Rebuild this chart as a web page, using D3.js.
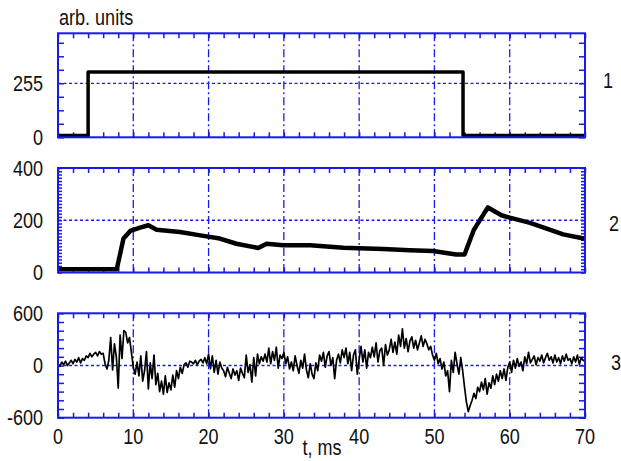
<!DOCTYPE html>
<html>
<head>
<meta charset="utf-8">
<script src="https://d3js.org/d3.v7.min.js"></script>
<style>
  body { margin: 0; background: #fff; }
  svg { display: block; }
</style>
</head>
<body>
<svg class="chart" width="621" height="461"></svg>
<script>
// panel 1: control pulse
var t1 = [0, 4, 4, 53.8, 53.8, 70];
var v1 = [8, 8, 308, 308, 8, 8];

// panel 2: slow response
var t2 = [0, 7.8, 8.7, 9.6, 10.9, 12, 13.1, 16.2, 18.9, 21.5, 23.7, 26.6, 27.7, 29.9, 33.5, 37.9,
          43.2, 46.7, 49.8, 52.9, 54, 55.2, 56.3, 57.1, 58.9, 60, 62.7, 65.3, 67.1, 69.5, 70];
var v2 = [12, 12, 130, 159, 172, 181, 164, 155, 142, 130, 110, 94, 110, 104, 104, 95,
          90, 85, 82, 69, 69, 161, 213, 249, 219, 210, 190, 164, 146, 132, 130];

// panel 3: noisy signal, one value per 0.25 ms
var step3 = 0.25;
var v3 = [
  20, -10, 40, 10,   50, 0, 30, 60,   20, 70, 40, 90,   30, 80, 60, 110,
  90, 140, 100, 130,   150, 110, 160, 130,   140, 20, -40, 60,   320, -50, 250, 100,
  -260, 350, 80, 400,   380, 260, 320, 150,   -20, -100, 40, -120,   110, -180, -60, 160,
  -270, 30, -150, 120,   -220, -90, -300, -180,   -330, -120, -310, -200,   -280, -110, -250, -60,
  -150, -20, -90, 10,   30, -20, 50, 40,   20, 60, 10, 50,   70, 30, 90, 20,
  130, -40, 110, -80,   60, -100, 40, -30,   -60, -130, -20, -90,   -150, -40, -110, -60,
  -170, -30, -90, -140,   120, -80, 10, -190,   90, -120, 130, 20,   100, 50, 130, 40,
  200, 20, 160, 60,   210, -30, 120, 80,   150, 20, 100, -40,   40, -60, 110, 0,
  -90, 60, -30, 130,   -50, -140, 20, -100,   -150, 30, -60, 120,   50, 150, -20, 110,
  160, 0, 90, -150,   60, 130, 30, 180,   90, 200, 20, 150,   -60, 120, 180, -100,
  70, 220, 40, 180,   -30, 150, 90, 210,   100, 260, 40, 170,   200, 0, 240, 120,
  180, 300, 150, 270,   130, 350, 220, 420,   200, 310, 160, 280,   330, 200, 290, 180,
  260, 340, 220, 300,   250, 180, 220, 120,   60, 140, 20, 80,   -40, 40, -120, -60,
  -300, 60, -80, 150,   20, -100, 90, -60,   -250, -420, -530, -460,   -400, -320, -380, -250,
  -300, -190, -280, -150,   -330, -200, -260, -120,   -220, -100, -180, -60,   -150, -40, -170, -20,
  40, -80, 60, -30,   80, -10, 40, -60,   100, 20, 150, 30,   70, 110, 10, 90,
  50, 120, 30, 90,   140, 60, 100, 30,   120, 40, 90, 20,   110, 50, 130, 60,
  80, 20, 100, 40,   120, 10, 90, 60,   50
];

var xTicks = [0, 10, 20, 30, 40, 50, 60, 70];
var xGrid = [10, 20, 30, 40, 50, 60];

var panels = [
  { name: "1", top: 33.3, bottom: 137.3, domain: [0, 491], minor: 63.75, grid: [255],
    labels: [0, 255], lw: 3.5, tag: [603, 80] },
  { name: "2", top: 168, bottom: 272.5, domain: [0, 400], minor: 12.5, grid: [200],
    labels: [0, 200, 400], lw: 4.5, tag: [609, 223] },
  { name: "3", top: 313.3, bottom: 417.7, domain: [-600, 600], minor: 100, grid: [0],
    labels: [-600, 0, 600], lw: 1.7, tag: [611, 362] }
];
var series = [
  t1.map(function(t, i) { return [t, v1[i]]; }),
  t2.map(function(t, i) { return [t, v2[i]]; }),
  v3.map(function(v, i) { return [i * step3, v]; })
];

var blue = "#1a1ae6";
var svg = d3.select(".chart");
var left = 58, right = 585;

var x = d3.scaleLinear().domain([0, 70]).range([left, right]);

function addText(x0, y0, str, anchor) {
  svg.append("text")
    .attr("transform", "translate(" + x0 + "," + y0 + ") scale(0.82,1)")
    .attr("text-anchor", anchor)
    .attr("dy", "0.35em")
    .style("font-family", "'Liberation Sans', Arial, sans-serif")
    .style("font-size", "22px")
    .style("fill", "#111")
    .text(str);
}

panels.forEach(function(p, k) {
  var y = d3.scaleLinear().domain(p.domain).range([p.bottom, p.top]);
  var g = svg.append("g");
  var h = p.bottom - p.top;

  g.append("clipPath")
    .attr("id", "clip" + k)
    .append("rect")
    .attr("x", left).attr("y", p.top)
    .attr("width", right - left).attr("height", h);

  // grid
  g.selectAll(".vg")
    .data(xGrid)
    .enter()
    .append("line")
    .attr("x1", function(d) { return x(d); })
    .attr("x2", function(d) { return x(d); })
    .attr("y1", p.top).attr("y2", p.bottom)
    .attr("stroke", blue)
    .attr("stroke-width", 1.3)
    .attr("stroke-dasharray", "8,3,2,3");
  g.selectAll(".hg")
    .data(p.grid)
    .enter()
    .append("line")
    .attr("x1", left).attr("x2", right)
    .attr("y1", function(d) { return y(d); })
    .attr("y2", function(d) { return y(d); })
    .attr("stroke", blue)
    .attr("stroke-width", 1.3)
    .attr("stroke-dasharray", "3,2.5");

  // inward ticks
  var xt = d3.range(0, 70.01, 2);
  var yt = d3.range(p.domain[0], p.domain[1] + 0.01, p.minor);
  var axes = [
    [d3.axisBottom(x).tickValues(xt), "translate(0," + p.top + ")", 5],
    [d3.axisTop(x).tickValues(xt), "translate(0," + p.bottom + ")", 5],
    [d3.axisRight(y).tickValues(yt), "translate(" + left + ",0)", p.minor < 20 ? 4 : 6],
    [d3.axisLeft(y).tickValues(yt), "translate(" + right + ",0)", p.minor < 20 ? 4 : 6]
  ];
  axes.forEach(function(a) {
    var ax = g.append("g")
      .attr("transform", a[1])
      .call(a[0].tickSize(a[2]).tickFormat(""));
    ax.select(".domain").remove();
    ax.selectAll("line").attr("stroke", blue).attr("stroke-width", 1.5);
  });

  // data line
  g.append("path")
    .datum(series[k])
    .attr("clip-path", "url(#clip" + k + ")")
    .attr("fill", "none")
    .attr("stroke", "#000")
    .attr("stroke-width", p.lw)
    .attr("stroke-linejoin", "round")
    .attr("d", d3.line()
      .x(function(d) { return x(d[0]); })
      .y(function(d) { return y(d[1]); }));

  // frame
  g.append("rect")
    .attr("x", left).attr("y", p.top)
    .attr("width", right - left).attr("height", h)
    .attr("fill", "none")
    .attr("stroke", blue)
    .attr("stroke-width", 2);

  p.labels.forEach(function(v) {
    addText(43, y(v), v, "end");
  });
  addText(p.tag[0], p.tag[1], p.name, "start");
});

xTicks.forEach(function(t) {
  addText(x(t), 436, t, "middle");
});
addText(322, 447, "t, ms", "middle");
addText(59, 17, "arb. units", "start");
</script>
</body>
</html>
